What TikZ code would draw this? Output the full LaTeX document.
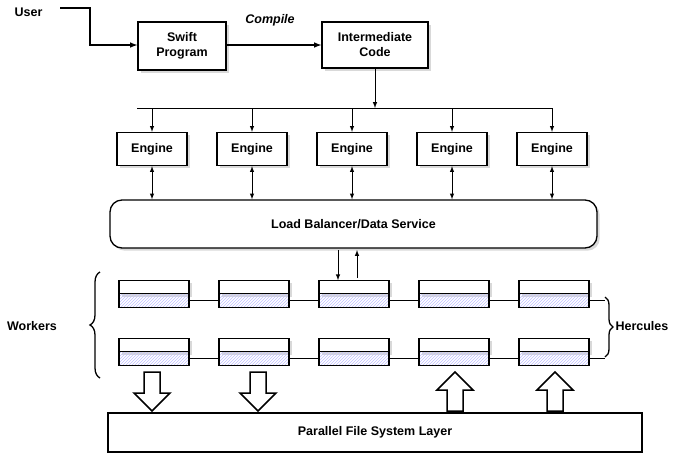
\documentclass[tikz,border=0pt]{standalone}
\usepackage{fontspec}
\setmainfont{Liberation Sans}
\usepackage{tikz}
\usetikzlibrary{arrows, positioning, calc, shadows, patterns, decorations.pathreplacing}

\begin{document}
\begin{tikzpicture}[
    x=1pt, y=-1pt,
    font=\bfseries\fontsize{12.5}{15}\selectfont,
    box/.style={rectangle, draw, line width=1.3pt, fill=white, align=center, drop shadow={opacity=0.3}},
    engine/.style={box, minimum width=70pt, minimum height=33pt},
    cell/.style={rectangle, draw, line width=1.3pt, minimum width=70pt, minimum height=13.5pt, inner sep=0pt, outer sep=0pt},
    fatarrow/.style={draw, line width=1.5pt, fill=white, line join=miter},
    >=latex,
]
\useasboundingbox (0,0) rectangle (691,464);

% Compile chain
\node[anchor=east] (user) at (46,12) {User};
\node[box, minimum width=88pt, minimum height=48pt] (swift) at (182,46) {Swift\\Program};
\node[box, minimum width=106pt, minimum height=46pt] (inter) at (375,45) {Intermediate\\Code};
\node[font=\bfseries\itshape\fontsize{12.5}{15}\selectfont] (compile) at (270,20) {Compile};
\draw[line width=1.5pt, ->] (60,8) -- (90,8) -- (90,45) -- (swift.west |- 0,45);
\draw[line width=1.5pt, ->] (swift.east |- 0,45) -- (inter.west |- 0,45);

% Engines
\coordinate (split) at (375,108);
\draw[line width=1pt, ->] (inter.south) -- (split);
\foreach \i/\x in {1/152,2/252,3/352,4/452,5/552}{
  \node[engine] (e\i) at (\x,149) {Engine};
  \draw[line width=1pt, ->] (\x,108) -- (e\i.north);
}
\draw[line width=1pt] (137,108) -- (552,108);

% Load balancer
\node[box, rounded corners=12pt, minimum width=487pt, minimum height=48pt] (lb) at (353.5,224) {Load Balancer/Data Service};
\foreach \i in {1,...,5}{
  \draw[line width=1pt, <->] (e\i.south) -- (e\i.south |- lb.north);
}

% Worker rows
\foreach \r/\y in {1/287,2/345}{
  \foreach \i/\x in {1/154,2/254,3/354,4/454,5/554}{
    \node[cell, fill=white, drop shadow={opacity=0.3, shadow yshift=-3pt}] (t\r\i) at (\x,\y) {};
    \node[cell, anchor=north, pattern=north east lines, pattern color=blue!25] (b\r\i) at (t\r\i.south) {};
    \draw[line width=1.3pt] (t\r\i.north west) rectangle (b\r\i.south east);
  }
  \foreach \i/\j in {1/2,2/3,3/4,4/5}{
    \draw[line width=1pt] (b\r\i.east) -- (b\r\j.west);
  }
  \coordinate (end\r) at ($(b\r5.east)+(16,0)$);
  \draw[line width=1pt] (b\r5.east) -- (end\r);
}
\draw[line width=1pt, ->] (338,250) -- (t13.north -| 338,0);
\draw[line width=1pt, ->] (357,278) -- (357,250);

% Braces
\draw[decorate, decoration={brace, amplitude=10pt}, line width=1.3pt] (100,378) -- (100,272);
\node (workers) at (32,326) {Workers};
\draw[decorate, decoration={brace, amplitude=8pt}, line width=1.3pt] (605,297) -- (605,357);
\node[anchor=west] (hercules) at (612,326) {Hercules};

% File system
\node[rectangle, draw, line width=1.3pt, minimum width=534pt, minimum height=39pt] (pfs) at (375,432.5) {Parallel File System Layer};
\foreach \x in {152,258}{
  \draw[fatarrow] (\x-8,372) -- (\x+8,372) -- (\x+8,393) -- (\x+18,393) -- (\x,411) -- (\x-18,393) -- (\x-8,393) -- cycle;
}
\foreach \x in {455,555}{
  \draw[fatarrow] (\x-8,411) -- (\x+8,411) -- (\x+8,390) -- (\x+18,390) -- (\x,372) -- (\x-18,390) -- (\x-8,390) -- cycle;
}
\end{tikzpicture}
\end{document}
